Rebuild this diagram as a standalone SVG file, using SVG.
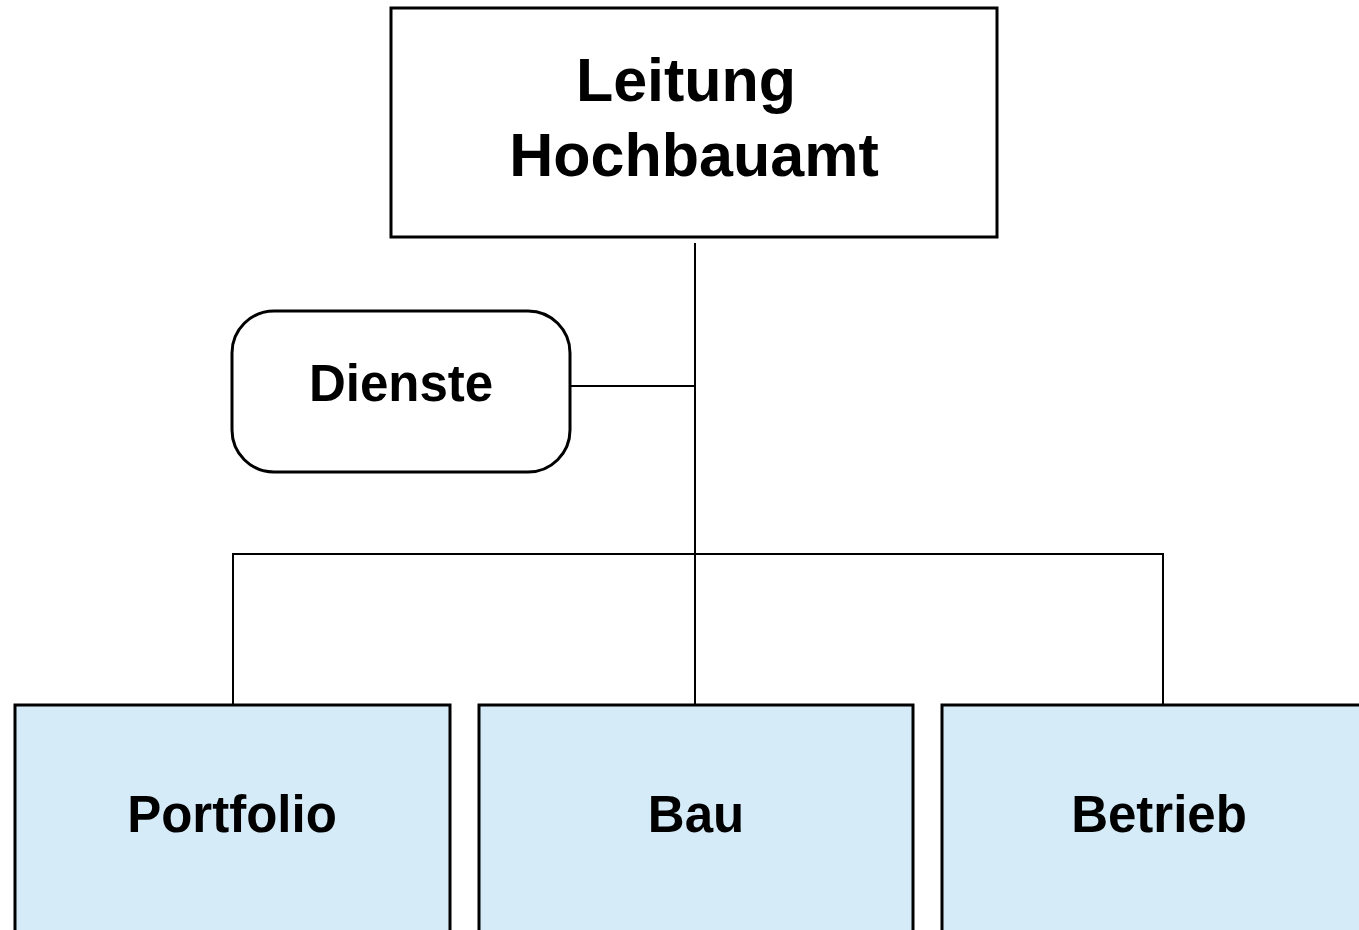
<svg xmlns="http://www.w3.org/2000/svg" width="1359" height="930" viewBox="0 0 1359 930">
  <style>
    .box { fill: #ffffff; stroke: #000000; stroke-width: 3; }
    .unit { fill: #d5ebf8; stroke: #000000; stroke-width: 3; }
    .lbl { font-family: "Liberation Sans", Arial, sans-serif; font-weight: bold; fill: #000000; text-anchor: middle; }
    .conn { stroke: #000000; stroke-width: 2; fill: none; }
  </style>
  <rect width="1359" height="930" fill="#ffffff"/>

  <!-- connectors -->
  <g id="connectors">
    <line class="conn" x1="695" y1="243" x2="695" y2="708"/>
    <line class="conn" x1="570" y1="386" x2="695" y2="386"/>
    <polyline class="conn" points="233,704 233,554 1163,554 1163,704"/>
  </g>

  <g id="leitung">
    <rect class="box" x="391" y="8" width="606" height="229"/>
    <text class="lbl" x="686" y="101" font-size="61">Leitung</text>
    <text class="lbl" x="694" y="176" font-size="61">Hochbauamt</text>
  </g>

  <g id="dienste">
    <rect class="box" x="232" y="311" width="338" height="161" rx="42" ry="42"/>
    <text class="lbl" x="401" y="401" font-size="51">Dienste</text>
  </g>

  <g id="portfolio">
    <rect class="unit" x="15" y="705" width="435" height="240"/>
    <text class="lbl" x="232" y="832" font-size="51">Portfolio</text>
  </g>

  <g id="bau">
    <rect class="unit" x="479" y="705" width="434" height="240"/>
    <text class="lbl" x="696" y="832" font-size="51">Bau</text>
  </g>

  <g id="betrieb">
    <rect class="unit" x="942" y="705" width="430" height="240"/>
    <text class="lbl" x="1159" y="832" font-size="51">Betrieb</text>
  </g>
</svg>
